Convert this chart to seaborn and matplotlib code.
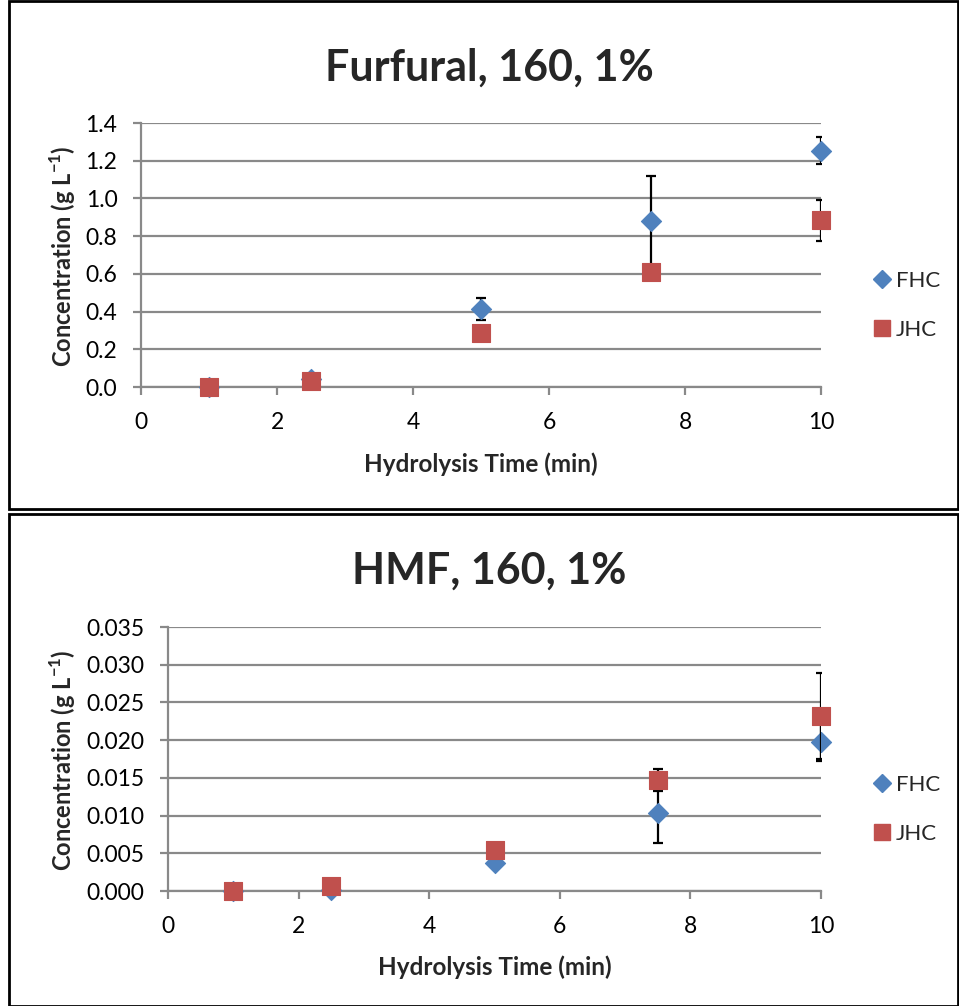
import matplotlib
matplotlib.use('Agg')
import matplotlib.pyplot as plt
import seaborn as sns
import pandas as pd
from matplotlib.patches import Rectangle
from matplotlib.lines import Line2D

sns.set_theme(style="white")
plt.rcParams['font.family'] = ['Lato', 'DejaVu Sans']
plt.rcParams['mathtext.fontset'] = 'custom'
plt.rcParams['mathtext.bf'] = 'Lato:bold'
plt.rcParams['mathtext.rm'] = 'Lato'

# data
times = [1, 2.5, 5, 7.5, 10]
furfural_fhc = [0.0, 0.045, 0.413, 0.878, 1.254]
furfural_fhc_err = [0.0, 0.0, 0.06, 0.24, 0.072]
furfural_jhc = [0.0, 0.032, 0.289, 0.608, 0.883]
furfural_jhc_err = [0.0, 0.0, 0.0, 0.0, 0.11]
hmf_fhc = [0.0, 0.0001, 0.0037, 0.0104, 0.0197]
hmf_fhc_err = [0.0, 0.0, 0.0, 0.004, 0.0025]
hmf_jhc = [0.0, 0.0006, 0.0054, 0.0147, 0.0232]
hmf_jhc_err = [0.0, 0.0, 0.0, 0.0015, 0.0057]
series_names = ["FHC", "JHC"]
colors = {"FHC": "#4F81BD", "JHC": "#C0504D"}
markers = {"FHC": "D", "JHC": "s"}
sizes = {"FHC": 105, "JHC": 150}

W, H = 959, 1006
fig = plt.figure(figsize=(W / 100, H / 100), dpi=100)


def px_axes(left, top, right, bottom):
    return fig.add_axes([left / W, 1 - bottom / H, (right - left) / W, (bottom - top) / H])


def draw_panel(ax, fhc, fhc_err, jhc, jhc_err, ymax, ystep, yfmt, title, title_y, ylab_y, xlab_y):
    df = pd.DataFrame({
        "time": times * 2,
        "value": fhc + jhc,
        "series": ["FHC"] * len(times) + ["JHC"] * len(times),
    })
    grid_c = "#898989"
    yt = [i * ystep for i in range(int(round(ymax / ystep)) + 1)]
    for y in yt:
        ax.axhline(y, color=grid_c, lw=1.6, zorder=1)
    # FHC first, then JHC on top
    errs = {"FHC": fhc_err, "JHC": jhc_err}
    for k, name in enumerate(series_names):
        sub = df[df.series == name]
        vals = list(sub.value)
        e = errs[name]
        xs = [t for t, ee in zip(times, e) if ee > 0]
        ys = [v for v, ee in zip(vals, e) if ee > 0]
        es = [ee for ee in e if ee > 0]
        ax.errorbar(xs, ys, yerr=es, fmt='none', ecolor='black', elinewidth=1.6,
                    capsize=3.5, capthick=1.6, zorder=3 + 2 * k)
        sns.scatterplot(data=sub, x="time", y="value", marker=markers[name],
                        color=colors[name], s=sizes[name],
                        edgecolor=colors[name], linewidth=0.8, ax=ax,
                        zorder=4 + 2 * k, legend=False, clip_on=False)
    ax.set_xlim(0, 10)
    ax.set_ylim(0, ymax)
    ax.set_xticks([0, 2, 4, 6, 8, 10])
    ax.set_yticks(yt)
    ax.set_yticklabels([yfmt.format(y) for y in yt])
    for s in ["top", "right"]:
        ax.spines[s].set_visible(False)
    for s in ["left", "bottom"]:
        ax.spines[s].set_color(grid_c)
        ax.spines[s].set_linewidth(1.6)
    ax.tick_params(axis='both', which='both', direction='out', length=6, width=1.6,
                   color=grid_c, labelsize=16.5, labelcolor='black', pad=11,
                   left=True, bottom=True)
    ax.tick_params(axis='x', pad=12)
    ax.set_xlabel("")
    ax.set_ylabel("")
    xc = (ax.get_position().x0 + ax.get_position().x1) / 2
    fig.text(xc, 1 - xlab_y / H, "Hydrolysis Time (min)", fontsize=17.5,
             fontweight='bold', ha='center', va='center')
    fig.text(489 / W, 1 - title_y / H, title, fontsize=31, fontweight='bold',
             ha='center', va='center')
    fig.text(63 / W, 1 - ylab_y / H, r"Concentration (g L$^{\mathbf{-1}}$)", fontsize=17,
             fontweight='bold', rotation=90, ha='center', va='center')
    ax.set_facecolor('white')


ax1 = px_axes(141, 123, 821, 387)
draw_panel(ax1, furfural_fhc, furfural_fhc_err, furfural_jhc, furfural_jhc_err,
           1.4, 0.2, "{:.1f}", "Furfural, 160, 1%", 68, 256, 464)
ax2 = px_axes(168, 627, 821, 891)
draw_panel(ax2, hmf_fhc, hmf_fhc_err, hmf_jhc, hmf_jhc_err,
           0.035, 0.005, "{:.3f}", "HMF, 160, 1%", 571, 760, 967)

handles = [Line2D([], [], ls='none', marker=markers[n], color=colors[n],
                  markersize=(9 if n == "FHC" else 12)) for n in series_names]
for ax, ytop in [(ax1, 277), (ax2, 781)]:
    fig.legend(handles, series_names, loc='upper left', frameon=False,
               bbox_to_anchor=(864 / W, 1 - (ytop - 15) / H), fontsize=16,
               handlelength=0.8, handletextpad=0.25, labelspacing=1.3,
               borderaxespad=0)

# panel borders
fig.patches.append(Rectangle((9 / W, 1 - 509 / H), (958 - 9) / W, 508 / H,
                             transform=fig.transFigure, fill=False, lw=2, ec='black'))
fig.patches.append(Rectangle((9 / W, 0), (958 - 9) / W, (H - 514) / H,
                             transform=fig.transFigure, fill=False, lw=2, ec='black'))

fig.savefig("out.png", dpi=100)
